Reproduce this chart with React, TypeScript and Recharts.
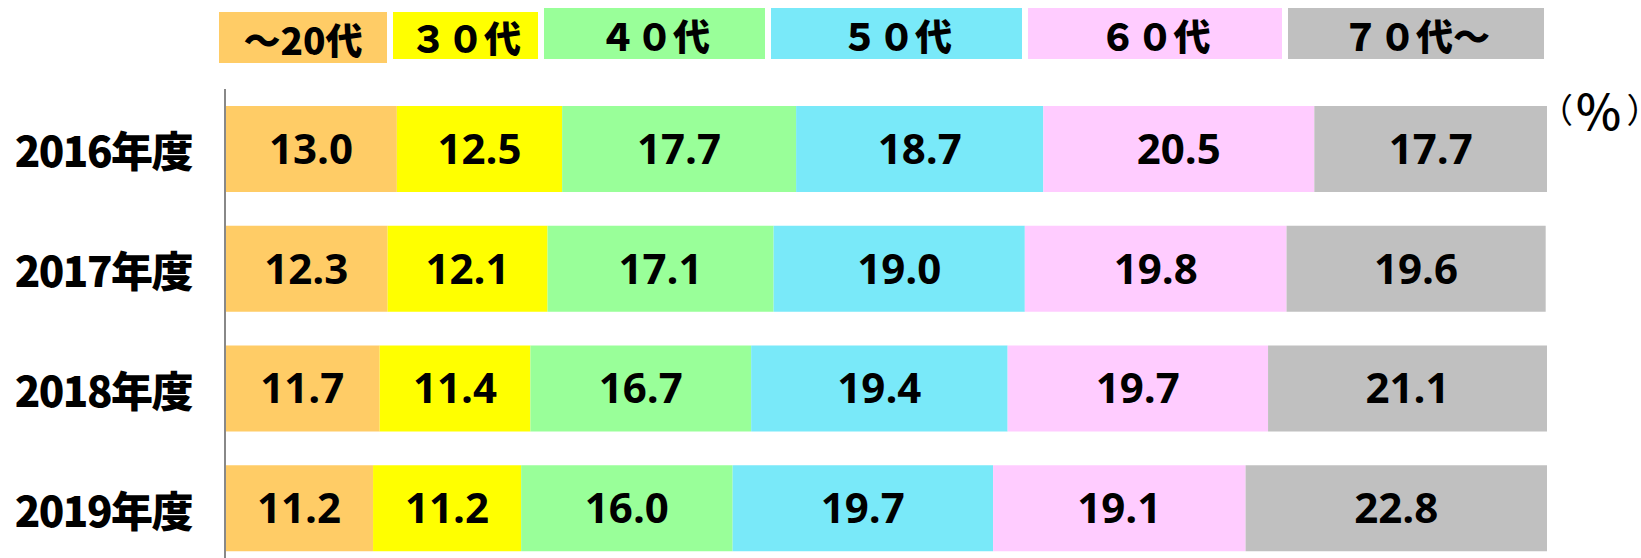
import React from 'react';
import { BarChart, Bar, XAxis, YAxis, LabelList } from 'recharts';

const YEARS = ['2016年度', '2017年度', '2018年度', '2019年度'];
const AGE_20 = [13.0, 12.3, 11.7, 11.2];
const AGE_30 = [12.5, 12.1, 11.4, 11.2];
const AGE_40 = [17.7, 17.1, 16.7, 16.0];
const AGE_50 = [18.7, 19.0, 19.4, 19.7];
const AGE_60 = [20.5, 19.8, 19.7, 19.1];
const AGE_70 = [17.7, 19.6, 21.1, 22.8];

const SERIES_KEYS = ['a20', 'a30', 'a40', 'a50', 'a60', 'a70'];
const SERIES_NAMES = ['～20代', '３０代', '４０代', '５０代', '６０代', '７０代～'];
const SERIES_VALUES = [AGE_20, AGE_30, AGE_40, AGE_50, AGE_60, AGE_70];
const SERIES_COLORS = ['#FFCC66', '#FFFF00', '#99FF99', '#79E9F9', '#FFCCFF', '#C0C0C0'];
const UNIT_PARTS = ['（', '％', '）'];

const data = YEARS.map((year, i) => {
  const row: Record<string, string | number> = { year };
  SERIES_KEYS.forEach((k, s) => {
    row[k] = SERIES_VALUES[s][i];
  });
  return row;
});

// legend box layout (positions only)
const LEGEND_LAYOUT = [
  { left: 219, width: 168, top: 12, height: 51 },
  { left: 393, width: 145, top: 12, height: 47 },
  { left: 544, width: 221, top: 8, height: 51 },
  { left: 771, width: 251, top: 8, height: 51 },
  { left: 1028, width: 254, top: 8, height: 51 },
  { left: 1288, width: 256, top: 8, height: 51 },
];
// unit label styling (font size / spacing per character)
const UNIT_STYLE = [
  { fontSize: 34, letterSpacing: 1.5, fontWeight: 400 },
  { fontSize: 48, letterSpacing: 4, fontWeight: 500 },
  { fontSize: 34, letterSpacing: -20, fontWeight: 400 },
];

const CJK = '"Noto Sans CJK JP", "Noto Sans", sans-serif';

const YearTick = (props: any) => {
  const { x, y, payload } = props;
  return (
    <text
      x={x}
      y={y}
      textAnchor="end"
      dominantBaseline="central"
      fontFamily={CJK}
      fontWeight={900}
      fontSize={42}
      letterSpacing={-1.5}
      fill="#000"
    >
      {payload.value}
    </text>
  );
};

export default function App() {
  return (
    <div
      style={{
        position: 'absolute',
        left: 0,
        top: 0,
        width: 1641,
        height: 558,
        overflow: 'hidden',
        background: '#fff',
      }}
    >
      <BarChart
        width={1641}
        height={568}
        data={data}
        layout="vertical"
        margin={{ top: 89, right: 94, bottom: 0, left: 0 }}
        barSize={86}
      >
        <XAxis type="number" domain={[0, 100]} allowDataOverflow hide />
        <YAxis
          type="category"
          dataKey="year"
          width={225}
          tickLine={false}
          tickMargin={27}
          axisLine={{ stroke: '#888888', strokeWidth: 2 }}
          tick={<YearTick />}
        />
        {SERIES_KEYS.map((k, s) => (
          <Bar
            key={k}
            dataKey={k}
            name={SERIES_NAMES[s]}
            stackId="a"
            fill={SERIES_COLORS[s]}
            isAnimationActive={false}
          >
            <LabelList
              dataKey={k}
              position="center"
              formatter={(v: any) => Number(v).toFixed(1)}
              fill="#000"
              fontFamily='"Open Sans", sans-serif'
              fontWeight={700}
              fontSize={42}
            />
          </Bar>
        ))}
      </BarChart>
      {SERIES_NAMES.map((name, s) => {
        const box = LEGEND_LAYOUT[s];
        return (
          <div
            key={name}
            style={{
              position: 'absolute',
              left: box.left,
              top: box.top,
              width: box.width,
              height: box.height,
              background: SERIES_COLORS[s],
              display: 'flex',
              alignItems: 'center',
              justifyContent: 'center',
              paddingTop: 3,
              boxSizing: 'border-box',
              fontFamily: CJK,
              fontWeight: 900,
              fontSize: 37,
              color: '#000',
              lineHeight: 1,
            }}
          >
            {name}
          </div>
        );
      })}
      <div
        style={{
          position: 'absolute',
          left: 1539,
          top: 90,
          height: 38,
          display: 'flex',
          alignItems: 'center',
          fontFamily: '"Noto Sans CJK JP", sans-serif',
          lineHeight: 1,
          color: '#000',
          whiteSpace: 'nowrap',
        }}
      >
        {UNIT_PARTS.map((p, i) => (
          <span key={i} style={UNIT_STYLE[i]}>
            {p}
          </span>
        ))}
      </div>
    </div>
  );
}
